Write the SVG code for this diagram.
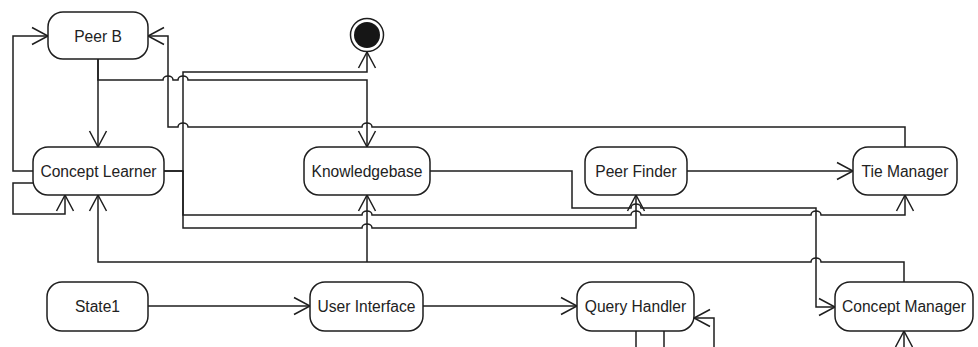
<svg xmlns="http://www.w3.org/2000/svg" width="978" height="347" viewBox="0 0 978 347">
  <style>
    .node rect { fill: #ffffff; stroke: #1e1e1e; stroke-width: 1.5; }
    .node text { font-family: "Liberation Sans", Arial, Helvetica, sans-serif; font-size: 15.6px; fill: #222222; text-anchor: middle; }
    .edge { fill: none; stroke: #1e1e1e; stroke-width: 1.5; stroke-linejoin: miter; }
    .arr { marker-end: url(#open); }
  </style>
  <defs>
    <marker id="open" markerUnits="userSpaceOnUse" markerWidth="20" markerHeight="20" viewBox="-18 -10 20 20" refX="0" refY="0" orient="auto" overflow="visible">
      <path d="M-16,-8.5 L0,0 L-16,8.5" fill="none" stroke="#1e1e1e" stroke-width="1.5"/>
    </marker>
  </defs>

  <rect width="978" height="347" fill="#ffffff"/>

  <!-- connectors -->
  <g id="connectors">
    <!-- Peer B -> Concept Learner -->
    <path class="edge arr" d="M98,59 V147"/>
    <!-- Peer B -> Knowledgebase -->
    <path class="edge arr" d="M98,59 V80 H163 a5,4 0 0 1 10,0 H178 a5,4 0 0 1 10,0 H367 V147"/>
    <!-- Concept Learner -> final state -->
    <path class="edge arr" d="M164,171 H183 V72 H367 V52"/>
    <!-- Tie Manager -> Peer B -->
    <path class="edge arr" d="M905,147 V127 H372 a5,4 0 0 0 -10,0 H188 a5,4 0 0 0 -10,0 H168 V36 H148"/>
    <!-- Concept Learner -> Peer B -->
    <path class="edge arr" d="M33,171 H13 V36 H48"/>
    <!-- Concept Learner self loop -->
    <path class="edge arr" d="M33,183 H13 V214 H65 V195"/>
    <!-- Concept Learner -> Tie Manager -->
    <path class="edge arr" d="M164,171 H183 V215 H362 a5,4 0 0 1 10,0 H631 a5,4 0 0 1 10,0 H811 a5,4 0 0 1 10,0 H905 V195"/>
    <!-- Concept Learner -> Peer Finder -->
    <path class="edge arr" d="M183,171 V228 H362 a5,4 0 0 1 10,0 H636 V195"/>
    <!-- Knowledgebase -> Concept Manager -->
    <path class="edge arr" d="M430,171 H572 V208 H631 a5,4 0 0 1 10,0 H816 V307 H835"/>
    <!-- Concept Manager -> Concept Learner -->
    <path class="edge arr" d="M904,282 V262 H821 a5,4 0 0 0 -10,0 H98 V195"/>
    <!-- Concept Manager -> Knowledgebase -->
    <path class="edge arr" d="M367,262 V195"/>
    <!-- Peer Finder -> Tie Manager -->
    <path class="edge arr" d="M687,171 H853"/>
    <!-- State1 -> User Interface -->
    <path class="edge arr" d="M148,306 H310"/>
    <!-- User Interface -> Query Handler -->
    <path class="edge arr" d="M423,306 H577"/>
    <!-- Query Handler lower links -->
    <path class="edge" d="M636,331 V347"/>
    <path class="edge" d="M664,331 V347"/>
    <path class="edge arr" d="M714,347 V318 H694"/>
    <!-- into Concept Manager from below -->
    <path class="edge arr" d="M904,347 V331"/>
  </g>

  <!-- final state -->
  <g id="final">
    <circle cx="367" cy="35" r="16.5" fill="#ffffff" stroke="#1e1e1e" stroke-width="1.5"/>
    <circle cx="367" cy="35" r="13" fill="#161616"/>
  </g>

  <g id="peer-b" class="node">
    <rect x="48" y="12" width="100" height="47" rx="15"/>
    <text x="98" y="41.5">Peer B</text>
  </g>
  <g id="concept-learner" class="node">
    <rect x="33" y="147" width="131" height="48" rx="15"/>
    <text x="98.5" y="176.5">Concept Learner</text>
  </g>
  <g id="knowledgebase" class="node">
    <rect x="304" y="147" width="126" height="48" rx="15"/>
    <text x="367" y="176.5">Knowledgebase</text>
  </g>
  <g id="peer-finder" class="node">
    <rect x="585" y="147" width="102" height="48" rx="15"/>
    <text x="636" y="176.5">Peer Finder</text>
  </g>
  <g id="tie-manager" class="node">
    <rect x="853" y="147" width="104" height="48" rx="15"/>
    <text x="905" y="176.5">Tie Manager</text>
  </g>
  <g id="state1" class="node">
    <rect x="47" y="282" width="101" height="49" rx="15"/>
    <text x="97.5" y="311.5">State1</text>
  </g>
  <g id="user-interface" class="node">
    <rect x="310" y="282" width="113" height="49" rx="15"/>
    <text x="366.5" y="311.5">User Interface</text>
  </g>
  <g id="query-handler" class="node">
    <rect x="577" y="282" width="117" height="49" rx="15"/>
    <text x="635.5" y="311.5">Query Handler</text>
  </g>
  <g id="concept-manager" class="node">
    <rect x="835" y="282" width="138" height="49" rx="15"/>
    <text x="904" y="311.5">Concept Manager</text>
  </g>
</svg>
